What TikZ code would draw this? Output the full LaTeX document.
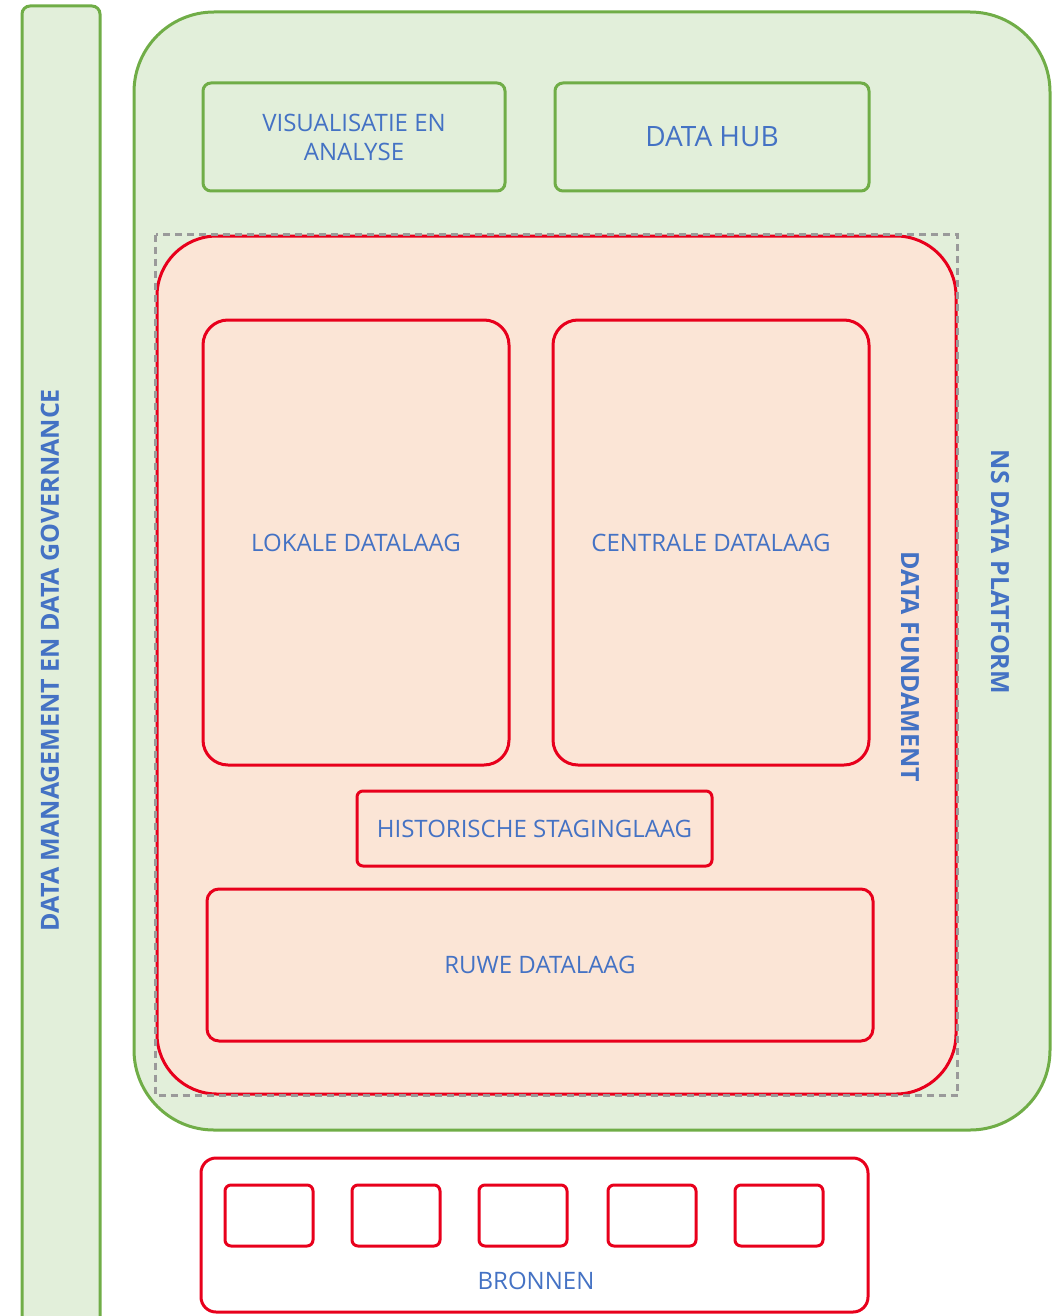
\documentclass[tikz,border=0pt]{standalone}
\usepackage{fontspec}
\setmainfont{Open Sans}
\definecolor{leafline}{HTML}{70AD47}
\definecolor{leaffill}{HTML}{E2EFDA}
\definecolor{redline}{HTML}{E8001C}
\definecolor{peach}{HTML}{FBE5D6}
\definecolor{labelblue}{HTML}{4472C4}
\definecolor{dashgray}{HTML}{9A9A9A}
\tikzset{
  greenbox/.style={draw=leafline, fill=leaffill, line width=3pt, inner sep=0pt},
  redbox/.style={draw=redline, line width=3pt, inner sep=0pt},
  lbl/.style={text=labelblue, font=\fontsize{24}{29}\selectfont, align=center},
  title/.style={text=labelblue, font=\fontsize{25}{28}\selectfont\bfseries, inner sep=0pt},
}
\begin{document}
\begin{tikzpicture}[x=1pt, y=-1pt]
\useasboundingbox (0,0) rectangle (1058,1316);

% governance column on the left
\node[greenbox, rounded corners=8pt, minimum width=78pt, minimum height=1324pt] (gov) at (61,668) {};
\node[title, rotate=90] (govtxt) at (50,660) {DATA MANAGEMENT EN DATA GOVERNANCE};

% data platform
\node[greenbox, rounded corners=80pt, minimum width=916pt, minimum height=1118pt] (platform) at (592,571) {};
\node[title, rotate=-90] (platformtxt) at (1000,572) {NS DATA PLATFORM};

\node[greenbox, rounded corners=8pt, minimum width=302pt, minimum height=108pt, lbl] (vis) at (354,137) {VISUALISATIE EN\\ANALYSE};
\node[greenbox, rounded corners=8pt, minimum width=314pt, minimum height=108pt, lbl, font=\fontsize{28}{32}\selectfont] (hub) at (712,137) {DATA HUB};

% data foundation
\node[redbox, fill=peach, rounded corners=60pt, minimum width=799pt, minimum height=858pt] (fundament) at (556.5,665) {};
\draw[dashgray, line width=3pt, dash pattern=on 7pt off 5pt] (fundament.north west) rectangle (fundament.south east);
\node[title, rotate=-90] (fundtxt) at (910,667) {DATA FUNDAMENT};

\node[redbox, rounded corners=25pt, minimum width=306pt, minimum height=445pt, lbl] (lokale) at (356,542.5) {LOKALE DATALAAG};
\node[redbox, rounded corners=25pt, minimum width=316pt, minimum height=445pt, lbl] (centrale) at (711,542.5) {CENTRALE DATALAAG};
\node[redbox, rounded corners=6pt, minimum width=355pt, minimum height=75pt, lbl] (hist) at (534.5,828.5) {HISTORISCHE STAGINGLAAG};
\node[redbox, rounded corners=12pt, minimum width=666pt, minimum height=152pt, lbl] (ruwe) at (540,965) {RUWE DATALAAG};

% sources
\node[redbox, fill=white, rounded corners=15pt, minimum width=667pt, minimum height=154pt] (bronnen) at (534.5,1235) {};
\node[lbl] (bronnentxt) at (536,1281) {BRONNEN};
\foreach \i/\x in {1/269, 2/396, 3/523, 4/652, 5/779}
  \node[redbox, rounded corners=6pt, minimum width=88pt, minimum height=61pt] (bron\i) at (\x,1215.5) {};
\end{tikzpicture}
\end{document}
